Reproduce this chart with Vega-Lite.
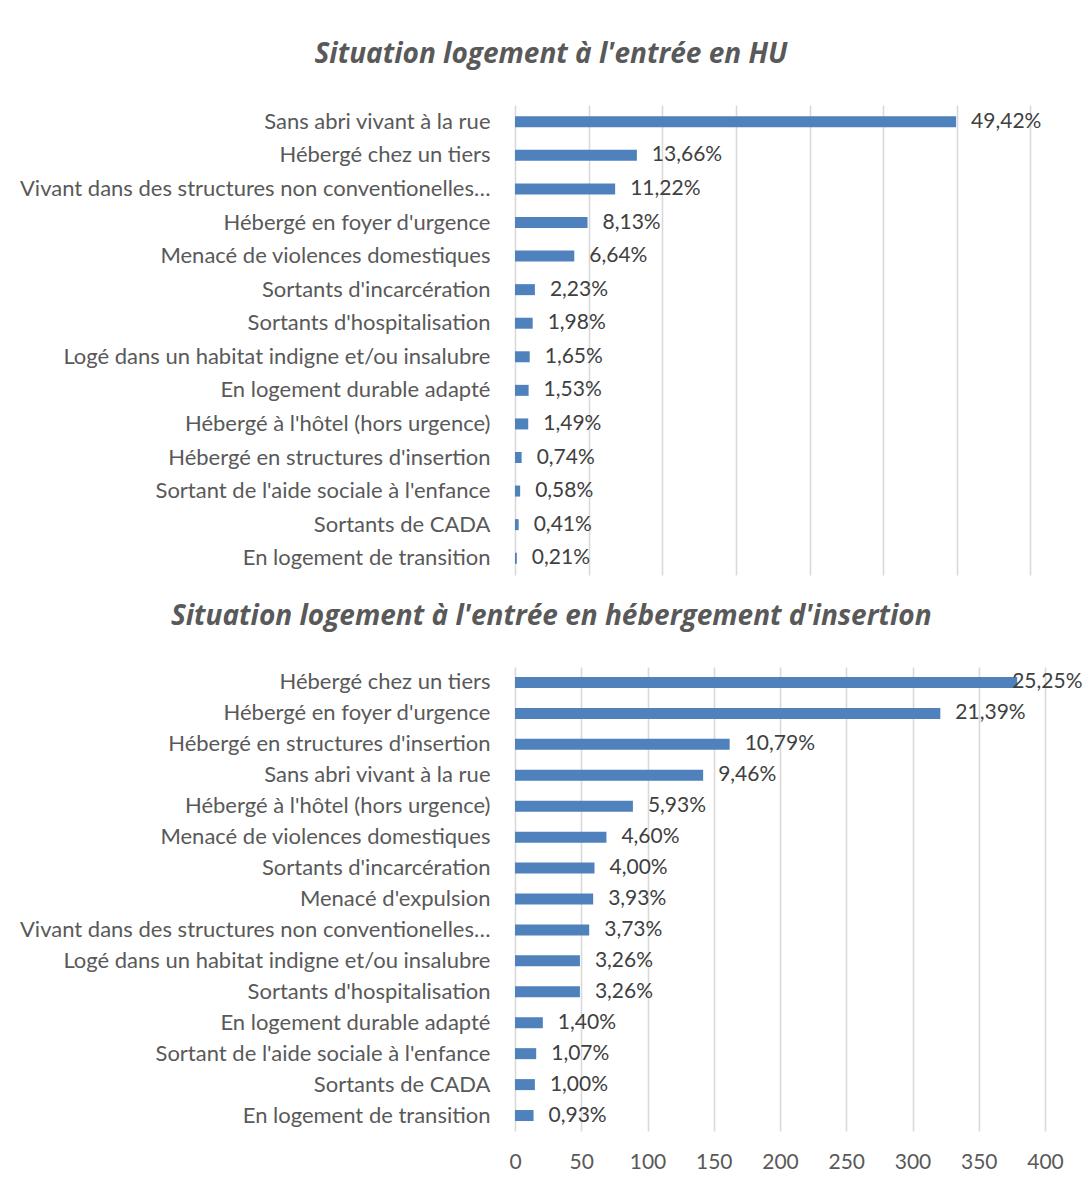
{
  "$schema": "https://vega.github.io/schema/vega-lite/v6.json",
  "background": "white",
  "padding": {"left": 0, "top": 41, "right": 0, "bottom": 0},
  "spacing": 28,
  "config": {
    "font": "Lato",
    "view": {"stroke": null},
    "axis": {"gridColor": "#d9d9d9", "gridWidth": 1.6, "domain": false, "ticks": false, "labelColor": "#595959", "labelFont": "Lato", "labelFontSize": 22, "title": null},
    "title": {"font": "Open Sans", "fontSize": 28, "fontStyle": "italic", "fontWeight": "bold", "color": "#595959", "anchor": "middle", "frame": "bounds", "offset": 36, "dx": 10}
  },
  "datasets": {
    "hu": [
      {"cat": "Sans abri vivant à la rue", "n": 1198, "pct": "49,42%"},
      {"cat": "Hébergé chez un tiers", "n": 331, "pct": "13,66%"},
      {"cat": "Vivant dans des structures non conventionelles…", "n": 272, "pct": "11,22%"},
      {"cat": "Hébergé en foyer d'urgence", "n": 197, "pct": "8,13%"},
      {"cat": "Menacé de violences domestiques", "n": 161, "pct": "6,64%"},
      {"cat": "Sortants d'incarcération", "n": 54, "pct": "2,23%"},
      {"cat": "Sortants d'hospitalisation", "n": 48, "pct": "1,98%"},
      {"cat": "Logé dans un habitat indigne et/ou insalubre", "n": 40, "pct": "1,65%"},
      {"cat": "En logement durable adapté", "n": 37, "pct": "1,53%"},
      {"cat": "Hébergé à l'hôtel (hors urgence)", "n": 36, "pct": "1,49%"},
      {"cat": "Hébergé en structures d'insertion", "n": 18, "pct": "0,74%"},
      {"cat": "Sortant de l'aide sociale à l'enfance", "n": 14, "pct": "0,58%"},
      {"cat": "Sortants de CADA", "n": 10, "pct": "0,41%"},
      {"cat": "En logement de transition", "n": 5, "pct": "0,21%"}
    ],
    "hi": [
      {"cat": "Hébergé chez un tiers", "n": 379, "pct": "25,25%"},
      {"cat": "Hébergé en foyer d'urgence", "n": 321, "pct": "21,39%"},
      {"cat": "Hébergé en structures d'insertion", "n": 162, "pct": "10,79%"},
      {"cat": "Sans abri vivant à la rue", "n": 142, "pct": "9,46%"},
      {"cat": "Hébergé à l'hôtel (hors urgence)", "n": 89, "pct": "5,93%"},
      {"cat": "Menacé de violences domestiques", "n": 69, "pct": "4,60%"},
      {"cat": "Sortants d'incarcération", "n": 60, "pct": "4,00%"},
      {"cat": "Menacé d'expulsion", "n": 59, "pct": "3,93%"},
      {"cat": "Vivant dans des structures non conventionelles…", "n": 56, "pct": "3,73%"},
      {"cat": "Logé dans un habitat indigne et/ou insalubre", "n": 49, "pct": "3,26%"},
      {"cat": "Sortants d'hospitalisation", "n": 49, "pct": "3,26%"},
      {"cat": "En logement durable adapté", "n": 21, "pct": "1,40%"},
      {"cat": "Sortant de l'aide sociale à l'enfance", "n": 16, "pct": "1,07%"},
      {"cat": "Sortants de CADA", "n": 15, "pct": "1,00%"},
      {"cat": "En logement de transition", "n": 14, "pct": "0,93%"}
    ]
  },
  "vconcat": [
    {
      "title": {"text": "Situation logement à l'entrée en HU"},
      "width": 567,
      "height": 470,
      "data": {"name": "hu"},
      "encoding": {
        "y": {"field": "cat", "type": "nominal", "sort": null,
              "scale": {"paddingInner": 0, "paddingOuter": 0},
              "axis": {"grid": false, "labelPadding": 25, "minExtent": 515, "maxExtent": 515, "labelLimit": 600}},
        "x": {"field": "n", "type": "quantitative",
              "scale": {"domain": [0, 1540], "nice": false},
              "axis": {"labels": false, "grid": true, "values": [0, 200, 400, 600, 800, 1000, 1200, 1400], "minExtent": 0, "maxExtent": 0}}
      },
      "layer": [
        {"mark": {"type": "bar", "size": 11, "color": "#4f81bd"}},
        {"mark": {"type": "text", "align": "left", "baseline": "middle", "dx": 15, "fontSize": 21, "color": "#404040", "font": "Lato"},
         "encoding": {"text": {"field": "pct", "type": "nominal"}}}
      ]
    },
    {
      "title": {"text": "Situation logement à l'entrée en hébergement d'insertion"},
      "width": 530,
      "height": 464,
      "data": {"name": "hi"},
      "encoding": {
        "y": {"field": "cat", "type": "nominal", "sort": null,
              "scale": {"paddingInner": 0, "paddingOuter": 0},
              "axis": {"grid": false, "labelPadding": 25, "minExtent": 515, "maxExtent": 515, "labelLimit": 600}},
        "x": {"field": "n", "type": "quantitative",
              "scale": {"domain": [0, 400], "nice": false},
              "axis": {"grid": true, "values": [0, 50, 100, 150, 200, 250, 300, 350, 400], "labelPadding": 20, "labelFlush": false, "labelFontSize": 21}}
      },
      "layer": [
        {"mark": {"type": "bar", "size": 11, "color": "#4f81bd"}},
        {"transform": [{"filter": "datum.n < 370"}],
         "mark": {"type": "text", "align": "left", "baseline": "middle", "dx": 15, "fontSize": 21, "color": "#404040", "font": "Lato"},
         "encoding": {"text": {"field": "pct", "type": "nominal"}}},
        {"transform": [{"filter": "datum.n >= 370"}],
         "mark": {"type": "text", "align": "left", "baseline": "middle", "dx": -5, "fontSize": 21, "color": "#404040", "font": "Lato"},
         "encoding": {"text": {"field": "pct", "type": "nominal"}}}
      ]
    }
  ]
}
